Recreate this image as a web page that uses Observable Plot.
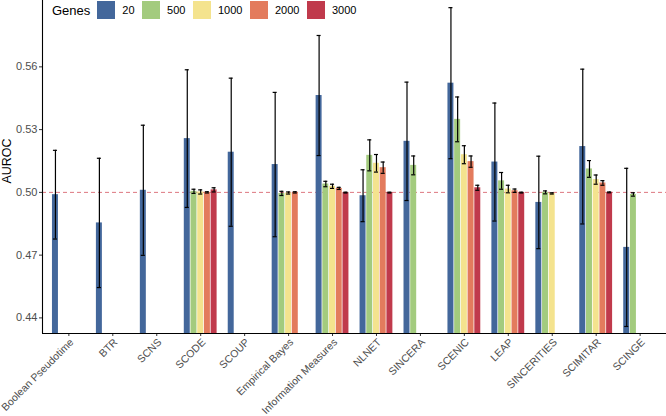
<!DOCTYPE html>
<html>
<head>
<meta charset="utf-8">
<script src="https://cdn.jsdelivr.net/npm/d3@7"></script>
<script src="https://cdn.jsdelivr.net/npm/@observablehq/plot@0.6"></script>
<style>
  body { margin: 0; background: white; }
  #wrap { position: relative; width: 666px; height: 416px; font-family: "Liberation Sans", Arial, sans-serif; }
  #legend { position: absolute; top: 0; left: 52px; height: 20px; display: flex; align-items: center; }
  #legend .title { font-size: 13px; color: #000; margin-right: 7px; }
  #legend .sw { width: 18px; height: 18.5px; margin-right: 7px; }
  #legend .lab { font-size: 11px; color: #000; margin-right: 7.5px; }
</style>
</head>
<body>
<div id="wrap"><div id="legend"></div></div>
<script>
const methods = ["Boolean Pseudotime","BTR","SCNS","SCODE","SCOUP","Empirical Bayes","Information Measures","NLNET","SINCERA","SCENIC","LEAP","SINCERITIES","SCIMITAR","SCINGE"];
const genes = ["20","500","1000","2000","3000"];
const colors = ["#43679b","#a3cb7e","#f4e38e","#e37b5d","#c03a4c"];

const mean20   = [0.4989,0.4854,0.5010,0.5257,0.5192,0.5133,0.5463,0.4984,0.5244,0.5522,0.5145,0.4952,0.5219,0.4737];
const sd20     = [0.0212,0.0309,0.0311,0.0329,0.0354,0.0345,0.0287,0.0124,0.0283,0.0361,0.0282,0.0221,0.0370,0.0378];
const mean500  = [null,null,null,0.5005,null,0.4995,0.5040,0.5177,0.5129,0.5349,0.5055,0.5000,0.5112,0.4990];
const sd500    = [null,null,null,0.0010,null,0.0010,0.0013,0.0074,0.0045,0.0107,0.0040,0.0007,0.0040,0.0008];
const mean1000 = [null,null,null,0.5002,null,0.4997,0.5029,0.5139,null,0.5180,0.5016,0.4995,0.5061,null];
const sd1000   = [null,null,null,0.0010,null,0.0005,0.0010,0.0042,null,0.0043,0.0018,0.0003,0.0022,null];
const mean2000 = [null,null,null,0.5000,null,0.5000,0.5019,0.5118,null,0.5147,0.5008,null,0.5045,null];
const sd2000   = [null,null,null,0.0003,null,0.0003,0.0005,0.0027,null,0.0027,0.0008,null,0.0011,null];
const mean3000 = [null,null,null,0.5012,null,null,0.4999,0.4999,null,0.5022,0.4999,null,0.5000,null];
const sd3000   = [null,null,null,0.0010,null,null,0.0002,0.0002,null,0.0012,0.0002,null,0.0002,null];

const yTicks = [0.44, 0.47, 0.50, 0.53, 0.56];
const yMin = 0.43254, yMax = 0.59172;

const means = [mean20, mean500, mean1000, mean2000, mean3000];
const sds = [sd20, sd500, sd1000, sd2000, sd3000];
const rows = [];
methods.forEach((m, i) => genes.forEach((g, j) => {
  if (means[j][i] != null) rows.push({method: m, gene: g, i, j, mean: means[j][i], sd: sds[j][i]});
}));

const step = 0.1527, barHalf = 0.068, capHalf = 0.046;
const cx = d => d.i + (d.j - 2) * step;
const xTicks = d3.range(methods.length);

const chart = Plot.plot({
  width: 666, height: 416,
  marginLeft: 42, marginRight: 0, marginTop: 0, marginBottom: 83,
  style: {fontFamily: "Liberation Sans, Arial, sans-serif", fontSize: "11px", background: "white", overflow: "visible"},
  x: {domain: [-0.6, methods.length - 0.4], axis: null},
  y: {domain: [yMin, yMax], axis: null},
  color: {domain: genes, range: colors},
  marks: [
    Plot.ruleY([0.5], {stroke: "#d4545f", strokeWidth: 0.8, strokeDasharray: "4,3"}),
    Plot.rectY(rows, {x1: d => cx(d) - barHalf, x2: d => cx(d) + barHalf, y1: yMin, y2: "mean", fill: "gene"}),
    Plot.ruleX(rows, {x: cx, y1: d => d.mean - d.sd, y2: d => d.mean + d.sd, stroke: "black", strokeWidth: 1.2}),
    Plot.ruleY(rows, {x1: d => cx(d) - capHalf, x2: d => cx(d) + capHalf, y: d => d.mean + d.sd, stroke: "black", strokeWidth: 1.2}),
    Plot.ruleY(rows, {x1: d => cx(d) - capHalf, x2: d => cx(d) + capHalf, y: d => d.mean - d.sd, stroke: "black", strokeWidth: 1.2}),
    Plot.axisY({ticks: yTicks, tickFormat: d3.format(".2f"), tickSize: 3, tickPadding: 2, fontSize: 11, fill: "#4d4d4d", stroke: "#333", label: null}),
    Plot.axisX({ticks: xTicks, tickFormat: () => "", tickSize: 3, stroke: "#333", label: null}),
    Plot.axisX({ticks: xTicks, tickFormat: i => methods[i], tickRotate: -45, tickSize: 0, tickPadding: 5, dx: 3, dy: 2, fontSize: 10.5, fill: "#4d4d4d", label: null}),
    Plot.ruleX([-0.6], {stroke: "black", strokeWidth: 1.1}),
    Plot.ruleY([yMin], {stroke: "black", strokeWidth: 1.1}),
    Plot.text(["AUROC"], {frameAnchor: "left", textAnchor: "middle", rotate: -90, dx: -36, dy: -6, fontSize: 12.5, fill: "black"})
  ]
});
document.getElementById("wrap").prepend(chart);

const legend = document.getElementById("legend");
const t = document.createElement("span"); t.className = "title"; t.textContent = "Genes"; legend.appendChild(t);
genes.forEach((g, k) => {
  const s = document.createElement("span"); s.className = "sw"; s.style.background = colors[k]; legend.appendChild(s);
  const l = document.createElement("span"); l.className = "lab"; l.textContent = g; legend.appendChild(l);
});
</script>
</body>
</html>
